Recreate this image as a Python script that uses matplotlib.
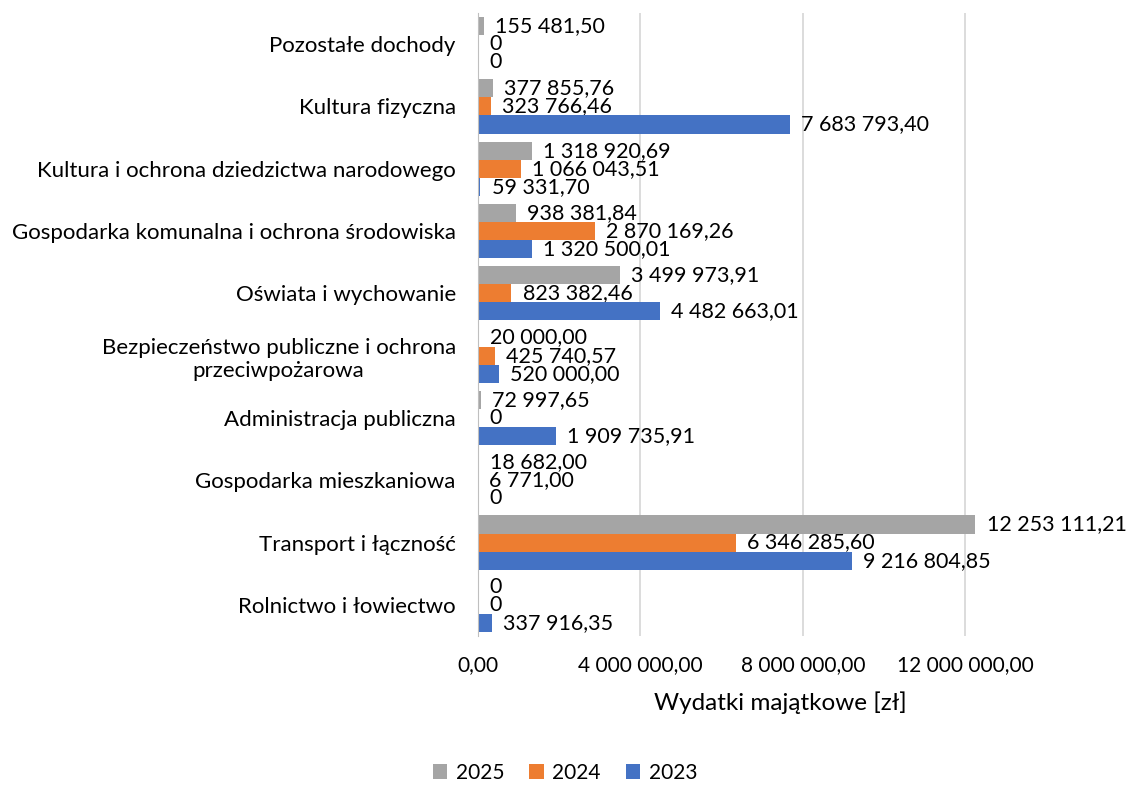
import matplotlib
matplotlib.use("Agg")
import matplotlib.pyplot as plt
import numpy as np

plt.rcParams['font.family'] = ['Lato', 'DejaVu Sans']

categories = [
    'Rolnictwo i łowiectwo',
    'Transport i łączność',
    'Gospodarka mieszkaniowa',
    'Administracja publiczna',
    'Bezpieczeństwo publiczne i ochrona\nprzeciwpożarowa',
    'Oświata i wychowanie',
    'Gospodarka komunalna i ochrona środowiska',
    'Kultura i ochrona dziedzictwa narodowego',
    'Kultura fizyczna',
    'Pozostałe dochody',
]
v2025 = [0, 12253111.21, 18682.00, 72997.65, 20000.00, 3499973.91,
         938381.84, 1318920.69, 377855.76, 155481.50]
v2024 = [0, 6346285.60, 6771.00, 0, 425740.57, 823382.46,
         2870169.26, 1066043.51, 323766.46, 0]
v2023 = [337916.35, 9216804.85, 0, 1909735.91, 520000.00, 4482663.01,
         1320500.01, 59331.70, 7683793.40, 0]
years = ['2025', '2024', '2023']
colors = ['#A5A5A5', '#ED7D31', '#4472C4']
xticks = [0, 4e6, 8e6, 12e6]


def pl_fmt(v):
    if v == 0:
        return '0'
    s = f'{v:,.2f}'
    return s.replace(',', ' ').replace('.', ',')


fig = plt.figure(figsize=(11.33, 7.85), dpi=100)
ax = fig.add_axes([478 / 1133, 1 - 636 / 785, (1087 - 478) / 1133, (636 - 13) / 785])

y = np.arange(len(categories))
h = 0.29
for i, (vals, yr, c) in enumerate(zip([v2025, v2024, v2023], years, colors)):
    pos = y + h * (1 - i)
    bars = ax.barh(pos, vals, height=h, color=c, label=yr, zorder=3)
    ax.bar_label(bars, labels=[pl_fmt(v) for v in vals], padding=8,
                 fontsize=15.5, color='black', clip_on=False)

ax.set_xlim(0, 15e6)
ax.set_ylim(-0.5, len(categories) - 0.5)
ax.set_xticks(xticks)
ax.set_xticklabels([pl_fmt(t) if t else '0,00' for t in xticks], fontsize=15)
ax.set_yticks(y)
ax.set_yticklabels(categories, fontsize=16, multialignment='center')
ax.tick_params(axis='y', length=0, pad=16)
ax.tick_params(axis='x', length=0, pad=14)
ax.grid(axis='x', color='#D9D9D9', linewidth=1.3, zorder=0)
for s in ['top', 'right', 'bottom']:
    ax.spines[s].set_visible(False)
ax.spines['left'].set_color('#BFBFBF')
ax.spines['left'].set_zorder(4)

fig.text(780 / 1133, 1 - 703 / 785, 'Wydatki majątkowe [zł]', fontsize=17.5,
         ha='center', va='center')

ax.legend(loc='center', bbox_to_anchor=(565 / 1133, 1 - 773 / 785),
          bbox_transform=fig.transFigure, ncol=3, frameon=False, fontsize=15,
          handlelength=0.7, handleheight=0.7, handletextpad=0.4, columnspacing=1.2)

fig.savefig('out.png', dpi=100)
